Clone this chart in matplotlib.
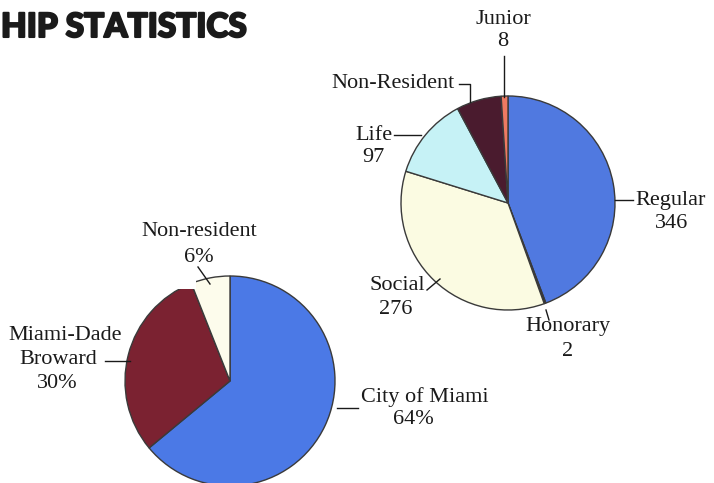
import numpy as np
import matplotlib
matplotlib.use("Agg")
import matplotlib.pyplot as plt
from matplotlib.patches import Rectangle
import matplotlib.patheffects as pe

# data
res_labels = ['City of Miami', 'Miami-Dade\nBroward', 'Non-resident']
res_share = [64, 30, 6]
res_colors = ['#4b79e6', '#7b2231', '#fdfcec']

mem_labels = ['Regular', 'Honorary', 'Social', 'Life', 'Non-Resident', 'Junior']
mem_values = [346, 2, 276, 97, 53, 8]   # Non-Resident not printed, estimated from slice
mem_colors = ['#5079e0', '#2a2a2a', '#fbfbe2', '#c6f2f6', '#4a1b2e', '#ee7a62']

W, H = 714, 483
fig = plt.figure(figsize=(W / 100, H / 100), dpi=100)
ax = fig.add_axes([0, 0, 1, 1])

def py(y):
    # pixel row (from top) -> data y
    return H - y

wp = dict(edgecolor='#3a3a3a', linewidth=1.0)

# left pie: residence
ax.pie(res_share, colors=res_colors, startangle=90, counterclock=False,
       center=(230, py(381)), radius=105, wedgeprops=wp)
# white patch that clips the top of the left pie
ax.add_patch(Rectangle((100, py(289)), 96, 60, facecolor='white', edgecolor='none', zorder=5))

# right pie: membership types
ax.pie(mem_values, colors=mem_colors, startangle=90, counterclock=False,
       center=(508, py(203)), radius=107, wedgeprops=wp)

ax.set_xlim(0, W)
ax.set_ylim(0, H)
ax.set_aspect('auto')
ax.axis('off')

tk = dict(family='Liberation Serif', fontsize=16, color='#1a1a1a', zorder=10)
ln = dict(color='#1a1a1a', lw=1.0, zorder=10)

def lab(x, y, s, ha='center'):
    ax.text(x, py(y), s, ha=ha, va='center', **tk)

def seg(xs, ys):
    ax.plot(xs, [py(v) for v in ys], **ln)

# membership labels
lab(503, 19, mem_labels[5])
lab(503, 41, str(mem_values[5]))
seg([504, 504], [56, 97])
lab(455, 83, mem_labels[4], ha='right')
seg([459, 470, 470], [84, 84, 102])
lab(392, 135, mem_labels[3], ha='right')
lab(373, 158, str(mem_values[3]))
seg([394, 421], [135, 135])
lab(425, 285, mem_labels[2], ha='right')
lab(396, 309, str(mem_values[2]))
seg([427, 440], [290, 279])
lab(635, 200, mem_labels[0], ha='left')
lab(672, 224, str(mem_values[0]))
seg([615, 633], [200, 200])
lab(568, 327, mem_labels[1])
lab(568, 352, str(mem_values[1]))
seg([546, 549], [310, 320])

# residence labels
lab(199, 232, res_labels[2])
lab(199, 257, f'{res_share[2]}%')
seg([198, 210], [267, 284])
md, bw = res_labels[1].split('\n')
lab(65, 336, md)
lab(58, 359, bw)
lab(57, 383, f'{res_share[1]}%')
seg([105, 130], [361, 361])
lab(425, 397, res_labels[0])
lab(413, 420, f'{res_share[0]}%')
seg([337, 358], [408, 408])

# title (the source shows only the tail of it)
ax.text(1, py(37), 'HIP STATISTICS', ha='left', va='baseline',
        family='Lato', fontweight='black', fontsize=24, color='#1a1a1a',
        path_effects=[pe.withStroke(linewidth=1.5, foreground='#1a1a1a')])

fig.savefig('out.png', dpi=100)
